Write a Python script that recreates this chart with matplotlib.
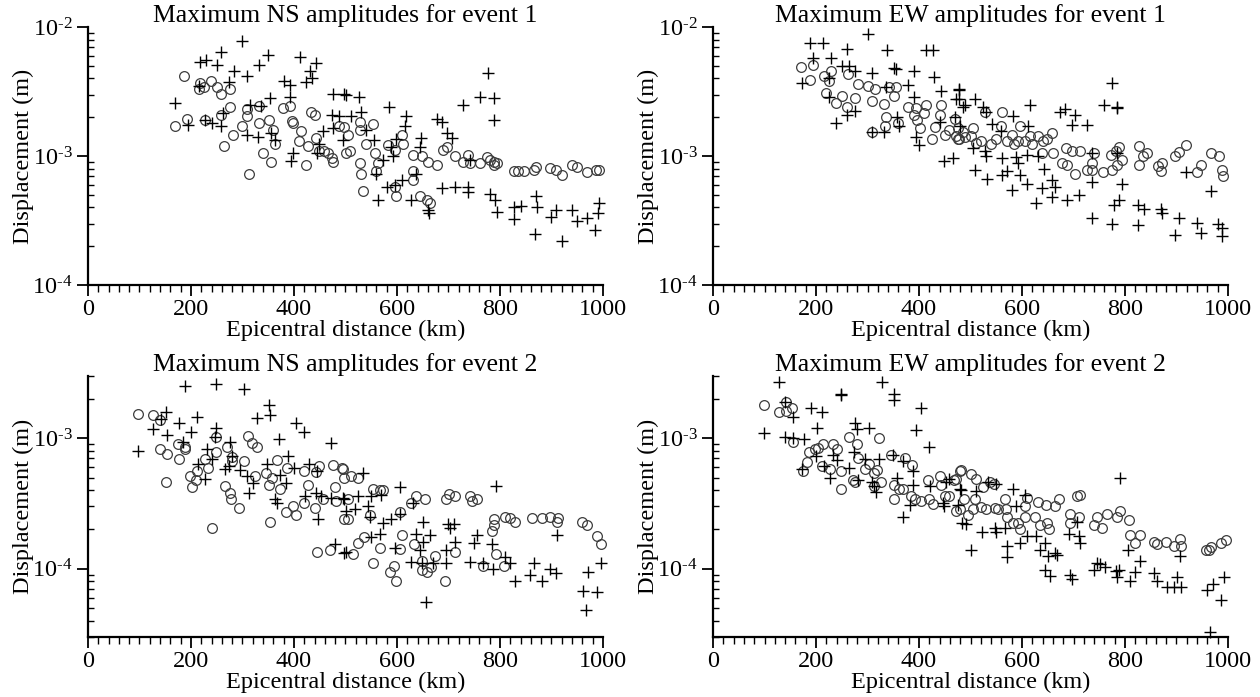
import numpy as np
import matplotlib.pyplot as plt
from matplotlib.ticker import MultipleLocator, FixedLocator, LogLocator, NullFormatter, FuncFormatter

plt.rcParams['font.family'] = 'Liberation Serif'
plt.rcParams['mathtext.fontset'] = 'custom'
plt.rcParams['mathtext.rm'] = 'Liberation Serif'
plt.rcParams['mathtext.default'] = 'regular'

# points are (epicentral distance in km, displacement in mm)
# o = circles, + = crosses

ns1_circles = [(187, 4.2), (217, 3.7), (216, 3.3), (226, 3.45), (238, 3.8), (251, 3.45), (258, 3.05), (275, 3.3),
               (193, 1.95), (170, 1.72), (228, 1.9), (258, 2.1), (275, 2.4), (264, 1.2), (282, 1.47), (300, 1.72),
               (308, 2.05), (309, 2.3), (313, 0.73), (333, 1.8), (333, 2.45), (339, 1.05), (351, 1.9), (355, 0.90),
               (360, 1.6), (363, 1.25), (378, 2.35), (392, 2.45), (396, 1.88), (398, 1.8), (413, 1.58), (410, 1.3),
               (428, 1.2), (424, 0.85), (433, 2.2), (441, 2.1), (443, 1.38), (449, 1.1), (459, 1.1), (467, 1.05),
               (473, 0.96), (475, 0.90), (488, 1.72), (501, 1.05),
               (498, 1.68), (529, 1.85), (529, 1.6), (554, 1.78), (505, 1.45), (508, 1.1), (528, 0.88), (531, 0.73),
               (534, 0.54), (540, 1.25), (557, 1.05), (563, 0.88), (560, 0.76), (583, 1.22), (596, 1.12), (609, 1.47),
               (612, 1.25), (596, 0.58), (599, 0.49), (632, 1.02), (632, 0.76), (632, 0.65), (645, 0.49), (658, 0.46),
               (664, 0.43), (648, 1.0), (660, 0.90), (677, 0.85), (690, 1.12), (698, 1.18), (713, 1.0), (729, 0.90),
               (738, 1.02), (742, 0.88), (762, 0.88), (775, 0.98), (781, 0.94), (788, 0.90), (794, 0.89), (788, 0.85),
               (827, 0.76), (836, 0.76), (846, 0.76), (866, 0.78), (871, 0.83), (898, 0.81), (908, 0.78), (920, 0.71),
               (940, 0.85), (949, 0.83), (970, 0.75), (986, 0.78), (992, 0.78)]

ns1_crosses = [(300, 7.8), (259, 6.4), (218, 5.4), (229, 5.6), (251, 5.1), (350, 6.1), (332, 5.1), (283, 4.6),
               (309, 4.2), (412, 5.9), (443, 5.3), (431, 4.55), (435, 4.0), (424, 3.75), (274, 3.75), (216, 3.5),
               (380, 3.85), (392, 3.55), (170, 2.6), (392, 2.85), (354, 2.8), (315, 2.5), (337, 2.45), (262, 2.15),
               (194, 1.75), (227, 1.9), (240, 1.82), (259, 1.72), (309, 1.45), (331, 1.4), (356, 1.5), (364, 1.33),
               (398, 1.05), (395, 0.92), (449, 1.25), (444, 1.05), (457, 1.58), (475, 3.05), (498, 3.05), (473, 2.1),
               (488, 2.05), (475, 1.65), (495, 1.33),
               (501, 3.0), (527, 2.85), (531, 2.2), (511, 2.05), (540, 1.6), (555, 1.33), (584, 2.4), (617, 2.05),
               (615, 1.7), (599, 1.35), (589, 1.18), (593, 1.0), (573, 0.93), (560, 0.73), (563, 0.46), (580, 0.58),
               (596, 0.60), (609, 0.65), (628, 0.46), (638, 0.73), (647, 1.38), (645, 1.18), (661, 0.38), (662, 0.36),
               (677, 1.95), (687, 1.85), (698, 1.5), (706, 1.38), (729, 2.5), (687, 0.57), (713, 0.58), (738, 0.58),
               (738, 0.53), (742, 0.93), (762, 2.85), (788, 2.8), (776, 4.4), (788, 1.9), (781, 0.51), (791, 0.46),
               (795, 0.37), (827, 0.40), (827, 0.325), (840, 0.41), (870, 0.49), (872, 0.40), (868, 0.25), (900, 0.34),
               (908, 0.38), (920, 0.22), (940, 0.38), (950, 0.315), (970, 0.33), (984, 0.265), (991, 0.36), (993, 0.43)]

ew1_circles = [(171, 4.95), (194, 5.1), (189, 3.9), (215, 4.2), (230, 4.55), (225, 3.8), (219, 3.1), (238, 2.6),
               (251, 2.95), (260, 2.4), (263, 4.3), (275, 2.8), (282, 3.6), (300, 3.5), (308, 2.7), (315, 3.3),
               (308, 1.55), (332, 2.55), (336, 2.0), (334, 1.7), (341, 3.45), (355, 3.45), (352, 2.95), (360, 1.8),
               (378, 2.4), (394, 2.35), (391, 2.1), (397, 1.9), (401, 1.65), (410, 2.15), (414, 2.5), (425, 1.35),
               (431, 1.68), (443, 2.5), (441, 2.1), (451, 1.45), (458, 1.6), (469, 1.95), (471, 1.42), (477, 1.35),
               (485, 1.55),
               (475, 1.65), (475, 1.35), (505, 1.65), (501, 1.42), (511, 1.27), (529, 2.2), (562, 2.2), (560, 1.72),
               (580, 1.47), (596, 1.72), (593, 1.3), (615, 1.42), (632, 1.42), (648, 1.35), (658, 1.5), (661, 1.05),
               (638, 1.05), (677, 0.88), (687, 0.86), (686, 1.15), (697, 1.1), (712, 1.1), (703, 0.73), (726, 0.78),
               (736, 0.78), (736, 0.89), (739, 1.05), (758, 0.75), (775, 0.78), (773, 1.02), (783, 1.1), (788, 1.18),
               (794, 0.93), (784, 0.85), (827, 1.2), (827, 0.85), (835, 1.0), (842, 1.05), (864, 0.84), (871, 0.89),
               (870, 0.77), (898, 1.0), (905, 1.07), (918, 1.22), (939, 0.75), (947, 0.86), (967, 1.05), (982, 1.0),
               (989, 0.78), (991, 0.70),
               (490, 1.4), (520, 1.3), (540, 1.25), (550, 1.35), (570, 1.3), (585, 1.25), (605, 1.3), (620, 1.25),
               (640, 1.3)]

ew1_crosses = [(300, 8.8), (189, 7.5), (213, 7.5), (261, 6.8), (338, 6.7), (414, 6.7), (427, 6.7), (194, 5.8),
               (230, 5.8), (250, 5.0), (264, 5.0), (275, 4.6), (308, 4.4), (352, 4.8), (355, 4.7), (391, 4.6),
               (430, 4.1), (172, 3.7), (225, 4.0), (336, 3.45), (378, 3.55), (391, 2.9), (443, 3.2), (477, 3.25),
               (471, 2.75), (485, 2.4), (226, 2.9), (261, 2.1), (276, 2.25), (238, 1.8), (308, 1.55), (332, 1.55),
               (358, 2.0), (362, 1.7), (394, 1.4), (399, 1.22), (440, 1.85), (469, 2.0), (448, 0.92), (466, 0.96),
               (479, 1.7),
               (477, 3.3), (477, 2.75), (489, 2.5), (508, 2.75), (524, 2.4), (531, 2.2), (541, 1.78), (560, 1.58),
               (583, 2.05), (615, 2.5), (612, 1.7), (505, 1.15), (531, 1.0), (528, 1.1), (562, 0.96), (589, 0.98),
               (593, 0.88), (609, 1.02), (632, 1.0), (508, 0.78), (532, 0.67), (562, 0.71), (570, 0.76), (580, 0.55),
               (597, 0.71), (609, 0.61), (638, 0.57), (628, 0.43), (643, 0.79), (658, 0.65), (664, 0.58), (658, 0.48),
               (687, 0.46), (710, 0.50), (674, 2.2), (684, 2.3), (703, 2.1), (697, 1.75), (726, 1.75), (736, 1.05),
               (736, 0.63), (736, 0.33), (760, 2.5), (775, 3.7), (784, 2.4), (784, 2.35), (784, 1.05), (794, 0.61),
               (788, 0.46), (779, 0.42), (775, 0.30), (825, 0.42), (836, 0.39), (825, 0.29), (869, 0.39), (871, 0.36),
               (897, 0.245), (905, 0.33), (918, 0.75), (940, 0.305), (947, 0.255), (967, 0.54), (980, 0.30),
               (989, 0.275), (989, 0.24)]

ns2_circles = [(98, 1.54), (127, 1.5), (140, 1.37), (140, 0.83), (153, 0.76), (152, 0.46), (175, 0.90), (176, 0.69),
               (188, 0.86), (189, 0.83), (202, 0.42), (199, 0.51), (212, 0.56), (209, 0.48), (227, 0.69), (233, 0.59),
               (240, 0.205), (248, 1.02), (249, 0.78), (270, 0.85), (280, 0.72), (280, 0.67), (267, 0.43), (275, 0.38),
               (277, 0.34), (294, 0.29), (303, 0.67), (311, 1.04), (319, 0.92), (329, 0.86), (324, 0.51), (345, 0.54),
               (352, 0.44), (353, 0.23), (358, 0.50), (368, 0.68), (373, 0.405), (386, 0.59), (384, 0.27), (399, 0.30),
               (404, 0.26), (420, 0.56), (428, 0.44), (420, 0.32), (440, 0.29), (443, 0.55), (449, 0.61), (457, 0.345),
               (475, 0.62), (479, 0.42), (482, 0.33), (494, 0.59), (444, 0.135), (470, 0.14), (498, 0.24),
               (495, 0.58), (498, 0.50), (510, 0.51), (524, 0.50), (505, 0.34), (505, 0.24), (514, 0.13), (524, 0.158),
               (537, 0.175), (547, 0.26), (553, 0.41), (568, 0.40), (573, 0.40), (568, 0.145), (553, 0.11),
               (586, 0.095), (599, 0.080), (594, 0.105), (605, 0.27), (609, 0.18), (605, 0.142), (628, 0.32),
               (638, 0.36), (654, 0.34), (634, 0.155), (648, 0.114), (648, 0.098), (658, 0.094), (667, 0.103),
               (674, 0.125), (695, 0.34), (701, 0.375), (713, 0.36), (713, 0.135), (693, 0.080), (741, 0.36),
               (745, 0.33), (755, 0.34), (788, 0.24), (788, 0.215), (784, 0.195), (792, 0.13), (768, 0.105),
               (810, 0.25), (820, 0.245), (830, 0.23), (862, 0.245), (882, 0.245), (898, 0.25), (913, 0.245),
               (911, 0.23), (960, 0.23), (970, 0.215), (989, 0.177), (996, 0.155), (807, 0.105)]

ns2_crosses = [(189, 2.5), (248, 2.6), (303, 2.4), (152, 1.6), (142, 1.4), (127, 1.18), (98, 0.80), (153, 1.05),
               (176, 1.3), (212, 1.45), (201, 1.12), (184, 0.94), (248, 1.2), (246, 1.02), (352, 1.8), (353, 1.5),
               (329, 1.42), (371, 0.99), (404, 1.3), (420, 1.12), (472, 0.92), (231, 0.82), (240, 0.69), (214, 0.63),
               (227, 0.49), (275, 0.94), (280, 0.73), (274, 0.61), (267, 0.58), (296, 0.57), (309, 0.51), (320, 0.45),
               (313, 0.38), (348, 0.64), (373, 0.52), (388, 0.73), (401, 0.59), (384, 0.45), (364, 0.34), (368, 0.32),
               (430, 0.64), (444, 0.56), (422, 0.36), (443, 0.38), (453, 0.36), (446, 0.24), (472, 0.35), (495, 0.35),
               (479, 0.154), (498, 0.133),
               (534, 0.54), (524, 0.36), (550, 0.36), (570, 0.37), (605, 0.42), (632, 0.32), (498, 0.34),
               (501, 0.275), (518, 0.285), (544, 0.305), (547, 0.25), (573, 0.225), (589, 0.24), (605, 0.265),
               (651, 0.23), (638, 0.185), (664, 0.18), (651, 0.16), (645, 0.14), (596, 0.145), (567, 0.185),
               (550, 0.175), (501, 0.135), (628, 0.112), (648, 0.11), (670, 0.11), (695, 0.11), (656, 0.056),
               (699, 0.22), (710, 0.22), (703, 0.205), (713, 0.16), (695, 0.14), (755, 0.18), (749, 0.157),
               (742, 0.112), (768, 0.11), (784, 0.155), (786, 0.10), (792, 0.43), (810, 0.122), (820, 0.11),
               (829, 0.080), (859, 0.089), (866, 0.11), (882, 0.081), (898, 0.10), (909, 0.093), (911, 0.18),
               (972, 0.094), (961, 0.067), (989, 0.066), (996, 0.11), (968, 0.048)]

ew2_circles = [(98, 1.8), (128, 1.6), (141, 1.88), (141, 1.63), (154, 1.7), (155, 0.94), (174, 0.56), (183, 0.66),
               (187, 0.79), (198, 0.82), (204, 0.84), (213, 0.90), (212, 0.61), (232, 0.90), (240, 0.82), (228, 0.58),
               (248, 0.56), (248, 0.405), (265, 1.02), (280, 0.90), (282, 0.71), (271, 0.48), (276, 0.46), (295, 0.58),
               (302, 0.64), (313, 0.54), (319, 0.57), (323, 1.0), (326, 0.46), (313, 0.43), (345, 0.74), (352, 0.44),
               (352, 0.34), (362, 0.405), (368, 0.41), (373, 0.71), (386, 0.62), (384, 0.36), (393, 0.345),
               (404, 0.33), (417, 0.48), (427, 0.315), (420, 0.345), (440, 0.51), (443, 0.44), (451, 0.36),
               (458, 0.36), (467, 0.48), (472, 0.275), (482, 0.57),
               (480, 0.56), (472, 0.49), (501, 0.53), (511, 0.49), (487, 0.34), (479, 0.285), (495, 0.26),
               (505, 0.285), (508, 0.34), (521, 0.295), (524, 0.42), (537, 0.46), (545, 0.445), (531, 0.285),
               (547, 0.29), (554, 0.285), (567, 0.345), (568, 0.285), (571, 0.25), (583, 0.225), (593, 0.225),
               (596, 0.20), (606, 0.30), (606, 0.25), (609, 0.35), (625, 0.25), (632, 0.325), (635, 0.215),
               (647, 0.31), (648, 0.225), (653, 0.20), (664, 0.30), (671, 0.34), (693, 0.265), (693, 0.225),
               (710, 0.25), (706, 0.36), (712, 0.37), (745, 0.25), (739, 0.215), (755, 0.205), (766, 0.265),
               (784, 0.25), (791, 0.275), (807, 0.235), (810, 0.18), (820, 0.157), (829, 0.18), (856, 0.16),
               (863, 0.155), (879, 0.16), (895, 0.15), (907, 0.17), (909, 0.15), (957, 0.138), (967, 0.148),
               (963, 0.14), (986, 0.157), (996, 0.165)]

ew2_crosses = [(129, 2.7), (328, 2.7), (248, 2.2), (248, 2.15), (352, 2.2), (352, 1.95), (404, 1.7), (98, 1.1),
               (139, 1.88), (155, 1.45), (139, 1.02), (155, 1.0), (176, 0.98), (191, 1.7), (211, 1.6), (202, 1.2),
               (199, 0.73), (172, 0.58), (215, 0.61), (228, 0.50), (232, 0.75), (241, 0.68), (276, 1.3), (280, 1.18),
               (303, 1.2), (274, 0.78), (265, 0.59), (282, 0.48), (295, 0.69), (323, 0.69), (308, 0.46), (313, 0.43),
               (316, 0.39), (395, 1.15), (419, 0.85), (349, 0.75), (369, 0.67), (358, 0.50), (388, 0.56), (388, 0.44),
               (382, 0.31), (368, 0.25), (421, 0.43), (446, 0.32), (448, 0.30), (459, 0.49), (475, 0.31), (482, 0.40),
               (484, 0.225), (453, 0.46),
               (480, 0.405), (511, 0.395), (534, 0.46), (550, 0.445), (583, 0.405), (606, 0.37), (588, 0.30),
               (492, 0.22), (523, 0.19), (547, 0.205), (550, 0.19), (567, 0.205), (501, 0.14), (570, 0.15),
               (571, 0.122), (596, 0.157), (609, 0.178), (627, 0.177), (635, 0.138), (645, 0.157), (651, 0.125),
               (667, 0.127), (645, 0.098), (654, 0.088), (664, 0.133), (693, 0.089), (697, 0.084), (692, 0.185),
               (710, 0.177), (712, 0.157), (706, 0.23), (739, 0.098), (745, 0.11), (752, 0.108), (762, 0.103),
               (783, 0.096), (784, 0.086), (788, 0.097), (791, 0.50), (806, 0.138), (810, 0.080), (820, 0.095),
               (829, 0.114), (857, 0.092), (863, 0.080), (882, 0.073), (895, 0.073), (909, 0.073), (901, 0.086),
               (907, 0.126), (959, 0.069), (970, 0.077), (986, 0.058), (993, 0.086), (965, 0.033)]

titles = ['Maximum NS amplitudes for event 1', 'Maximum EW amplitudes for event 1',
          'Maximum NS amplitudes for event 2', 'Maximum EW amplitudes for event 2']


def exp_label(v, pos):
    # hyphen-style exponent like the original (10^-3), not a wide math minus
    return r'$10^{\text{-%d}}$' % round(-np.log10(v))


fig = plt.figure(figsize=(12.6, 6.97), dpi=100)

panels = [
    (ns1_circles, ns1_crosses, titles[0], [0.0698, 0.591, 0.4087, 0.370], (1e-4, 1e-2), [1e-4, 1e-3, 1e-2]),
    (ew1_circles, ew1_crosses, titles[1], [0.5659, 0.591, 0.4087, 0.370], (1e-4, 1e-2), [1e-4, 1e-3, 1e-2]),
    (ns2_circles, ns2_crosses, titles[2], [0.0698, 0.0861, 0.4087, 0.3745], (3e-5, 3e-3), [1e-4, 1e-3]),
    (ew2_circles, ew2_crosses, titles[3], [0.5659, 0.0861, 0.4087, 0.3745], (3e-5, 3e-3), [1e-4, 1e-3]),
]

for circ, plus, title, rect, ylim, majors in panels:
    ax = fig.add_axes(rect)
    c = np.array(circ)
    p = np.array(plus)
    ax.plot(c[:, 0], c[:, 1] * 1e-3, 'o', mfc='none', mec='#3c3c3c', ms=7, mew=0.9, clip_on=False)
    ax.plot(p[:, 0], p[:, 1] * 1e-3, '+', color='black', ms=8, mew=1.0, clip_on=False)
    ax.set_yscale('log')
    ax.set_xlim(0, 1000)
    ax.set_ylim(*ylim)
    ax.spines[['top', 'right']].set_visible(False)
    ax.spines[['left', 'bottom']].set_linewidth(1.6)

    ax.xaxis.set_major_locator(MultipleLocator(200))
    ax.xaxis.set_minor_locator(MultipleLocator(20))
    ax.yaxis.set_major_locator(FixedLocator(majors))
    ax.yaxis.set_major_formatter(FuncFormatter(exp_label))
    ax.yaxis.set_minor_locator(LogLocator(base=10, subs=np.arange(2, 10), numticks=20))
    ax.yaxis.set_minor_formatter(NullFormatter())

    ax.tick_params(axis='x', which='major', direction='out', length=8, width=1.3, labelsize=17.5, pad=2)
    ax.tick_params(axis='x', which='minor', direction='out', length=5, width=1.0)
    ax.tick_params(axis='y', which='major', direction='out', length=8, width=1.3, labelsize=17.5, pad=3)
    ax.tick_params(axis='y', which='minor', direction='in', length=4, width=1.0)

    ax.set_title(title, fontsize=18.5, pad=0)
    ax.set_xlabel('Epicentral distance (km)', fontsize=17.5)
    ax.xaxis.set_label_coords(0.5, -0.135)
    ax.set_ylabel('Displacement (m)', fontsize=17.5)
    ax.yaxis.set_label_coords(-0.105, 0.5)

fig.savefig('out.png', dpi=100)
